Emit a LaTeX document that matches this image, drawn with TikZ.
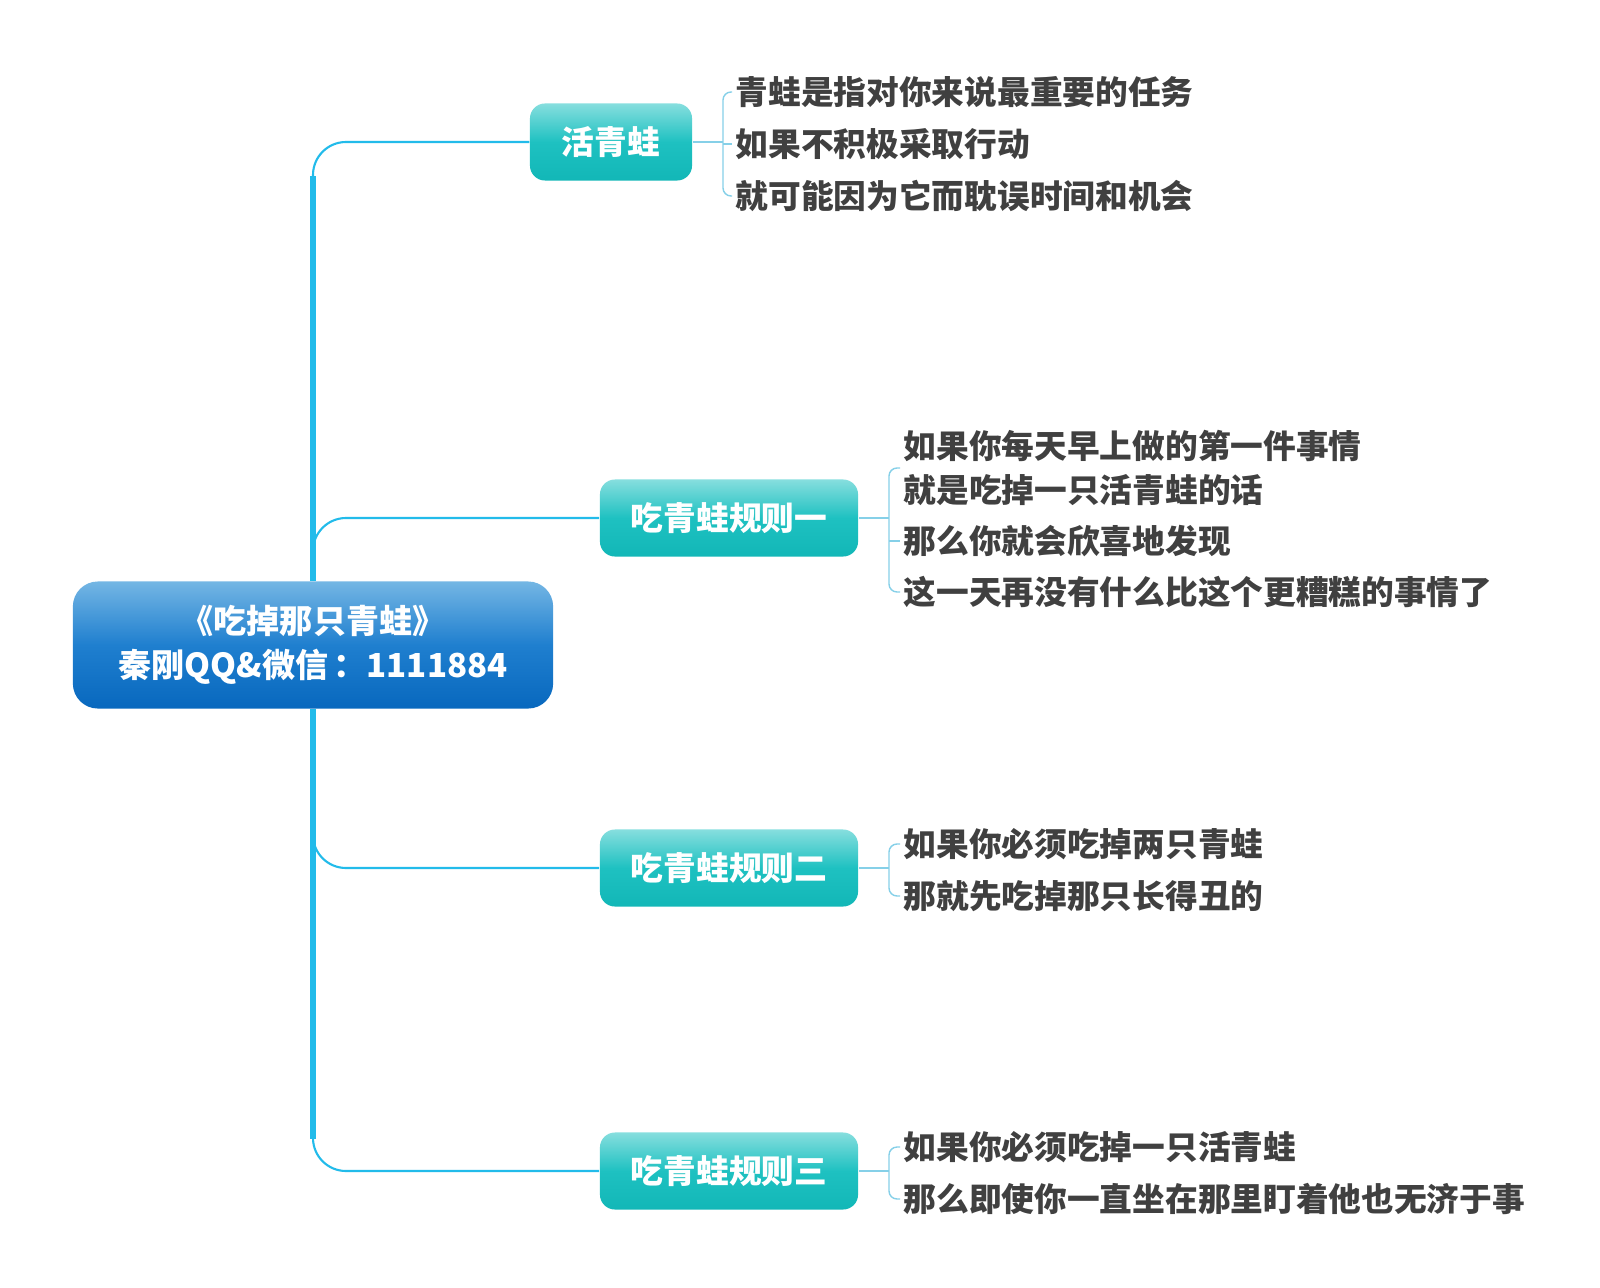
\documentclass[tikz,border=0pt]{standalone}
\usepackage{fontspec}
\setmainfont{Noto Sans CJK SC}
\usetikzlibrary{positioning, calc}

\definecolor{trunkblue}{HTML}{22BBEA}
\definecolor{leafblue}{HTML}{86D0E8}
\definecolor{leafgray}{HTML}{404040}
\definecolor{roottop}{HTML}{74B6E4}
\definecolor{rootmid}{HTML}{1F7FCF}
\definecolor{rootbot}{HTML}{0868BE}
\definecolor{tealtop}{HTML}{86DEDE}
\definecolor{tealmid}{HTML}{1EC1C1}
\definecolor{tealbot}{HTML}{12B7B7}

\tikzset{
	rootbox/.style={rectangle, rounded corners=0.25cm,
		minimum width=4.8cm, minimum height=1.27cm, inner sep=0pt,
		top color=roottop, bottom color=rootbot, middle color=rootmid,
		text=white, align=center,
		font=\fontsize{9.4}{12.4}\selectfont\bfseries},
	topicbox/.style={rectangle, rounded corners=0.15cm,
		minimum height=0.77cm, inner sep=0pt,
		top color=tealtop, bottom color=tealbot, middle color=tealmid,
		text=white, font=\fontsize{9.3}{12}\selectfont\bfseries},
	leaf/.style={anchor=west, inner xsep=0.03cm, inner ysep=0pt,
		text=leafgray, align=left,
		font=\fontsize{9.3}{12.5}\selectfont\bfseries},
	trunk/.style={draw=trunkblue, line width=1.5pt},
	branch/.style={draw=trunkblue, line width=0.6pt, rounded corners=0.33cm},
	bracket/.style={draw=leafblue, line width=0.4pt, rounded corners=0.08cm}
}

\begin{document}
\begin{tikzpicture}[x=0.01cm, y=-0.01cm]
	\useasboundingbox (0,0) rectangle (1600,1288);

	\node[rootbox] (root) at (313,645) {《吃掉那只青蛙》\\秦刚QQ\&微信\,：1111884};

	\node[topicbox, minimum width=1.62cm] (live) at (611,142) {活青蛙};
	\node[topicbox, minimum width=2.58cm] (rule1) at (729,518) {吃青蛙规则一};
	\node[topicbox, minimum width=2.58cm] (rule2) at (729,868) {吃青蛙规则二};
	\node[topicbox, minimum width=2.58cm] (rule3) at (729,1171) {吃青蛙规则三};

	\draw[branch] (root.north) |- (live.west);
	\draw[branch] (root.north) |- (rule1.west);
	\draw[branch] (root.south) |- (rule2.west);
	\draw[branch] (root.south) |- (rule3.west);
	\draw[trunk] (root.north) -- ($(root.north |- live.west)+(0,34)$);
	\draw[trunk] (root.south) -- ($(root.south |- rule3.west)+(0,-32)$);

	\node[leaf] (l1) at (732,92) {青蛙是指对你来说最重要的任务};
	\node[leaf] (l2) at (732,144) {如果不积极采取行动};
	\node[leaf] (l3) at (732,196) {就可能因为它而耽误时间和机会};
	\coordinate (kl) at (723,142);
	\draw[bracket] (l1.west) -| (kl) |- (l3.west);
	\draw[bracket] (live.east) -- (kl);
	\draw[bracket] (kl |- l2.west) -- (l2.west);

	\node[leaf] (a1) at (900,468) {如果你每天早上做的第一件事情\\就是吃掉一只活青蛙的话};
	\node[leaf] (a2) at (900,541) {那么你就会欣喜地发现};
	\node[leaf] (a3) at (900,592) {这一天再没有什么比这个更糟糕的事情了};
	\coordinate (ka) at (889,518);
	\draw[bracket] (a1.west) -| (ka) |- (a3.west);
	\draw[bracket] (rule1.east) -- (ka);
	\draw[bracket] (ka |- a2.west) -- (a2.west);

	\node[leaf] (b1) at (900,844) {如果你必须吃掉两只青蛙};
	\node[leaf] (b2) at (900,896) {那就先吃掉那只长得丑的};
	\coordinate (kb) at (889,868);
	\draw[bracket] (b1.west) -| (kb) |- (b2.west);
	\draw[bracket] (rule2.east) -- (kb);

	\node[leaf] (c1) at (900,1147) {如果你必须吃掉一只活青蛙};
	\node[leaf] (c2) at (900,1199) {那么即使你一直坐在那里盯着他也无济于事};
	\coordinate (kc) at (889,1171);
	\draw[bracket] (c1.west) -| (kc) |- (c2.west);
	\draw[bracket] (rule3.east) -- (kc);
\end{tikzpicture}
\end{document}
